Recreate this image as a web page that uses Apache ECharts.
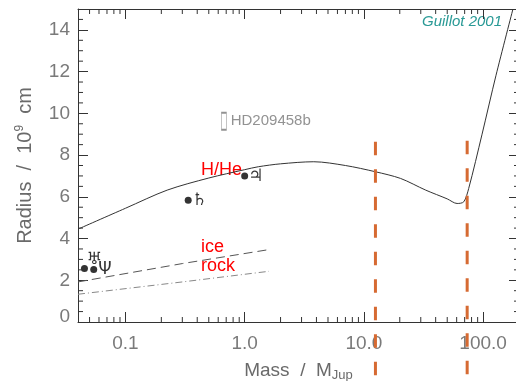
<!DOCTYPE html>
<html>
<head>
<meta charset="utf-8">
<script src="https://cdn.jsdelivr.net/npm/echarts@6/dist/echarts.min.js"></script>
<style>
  html, body { margin: 0; padding: 0; background: #fff; }
  #chart { width: 516px; height: 381px; }
</style>
</head>
<body>
<div id="chart"></div>
<script>
// H/He interior model (Guillot 2001), radius in 1e9 cm vs mass in M_Jup
const hheMass   = [0.04, 0.1, 0.224, 0.5, 1.0, 1.3, 2.0, 3.8, 7.0, 12.5, 20.3, 33, 50, 60.5, 68.8, 75.7, 98, 128, 178];
const hheRadius = [4.45, 5.45, 6.32, 6.9, 7.3, 7.44, 7.58, 7.68, 7.5, 7.2, 6.88, 6.32, 5.9, 5.68, 5.76, 6.4, 9.0, 11.8, 15.0];

const iceMass    = [0.04, 0.3, 1.6];
const iceRadius  = [1.92, 2.8, 3.47];
const rockMass   = [0.04, 0.3, 1.6];
const rockRadius = [1.33, 1.92, 2.43];

// solar system giants
const planetMass    = [0.0453, 0.0542, 0.336, 1.0];
const planetRadius  = [2.56, 2.51, 5.84, 7.0];
const planetSymbols = ['\u2645', '\u03A8', '\u2644', '\u2643'];

const hdMass = [0.67];
const hdRadius = [9.62];
const hdName = 'HD209458b';

// deuterium / hydrogen burning limits
const limitMass = [12.5, 73.5];
const limitTop = [8.64, 8.69];
const limitBottom = -2.6;

const xMin = 0.04, xMax = 200, yMin = 0, yMax = 15;
const xMajor = [0.1, 1, 10, 100];
const xMinor = [0.05, 0.06, 0.07, 0.08, 0.09, 0.2, 0.3, 0.4, 0.5, 0.6, 0.7, 0.8, 0.9,
  2, 3, 4, 5, 6, 7, 8, 9, 20, 30, 40, 50, 60, 70, 80, 90];
const yMajor = [0, 2, 4, 6, 8, 10, 12, 14];
const yMinor = [0.5, 1, 1.5, 2.5, 3, 3.5, 4.5, 5, 5.5, 6.5, 7, 7.5, 8.5, 9, 9.5,
  10.5, 11, 11.5, 12.5, 13, 13.5, 14.5];

const axisColor = '#333';
const labelColor = '#7a7a7a';
const nameColor = '#6a6a6a';
const font = 'Liberation Sans';

function xAxisDef(pos, withLabels) {
  return {
    type: 'log', logBase: 10, min: xMin, max: xMax, position: pos,
    axisLine: { show: true, onZero: false, lineStyle: { color: axisColor } },
    axisTick: { show: true, inside: true, length: 10, customValues: xMajor, lineStyle: { color: axisColor } },
    splitLine: { show: false },
    axisLabel: withLabels ? {
      customValues: xMajor, color: labelColor, fontSize: 19, fontFamily: font, margin: 12,
      formatter: v => v < 1 ? String(v) : v.toFixed(1)
    } : { show: false }
  };
}

function yAxisDef(pos, withLabels) {
  return {
    type: 'value', min: yMin, max: yMax, position: pos,
    axisLine: { show: true, onZero: false, lineStyle: { color: axisColor } },
    axisTick: { show: true, inside: true, length: 10, customValues: yMajor, lineStyle: { color: axisColor } },
    splitLine: { show: false },
    axisLabel: withLabels ? {
      customValues: yMajor, color: labelColor, fontSize: 19, fontFamily: font, margin: 8,
      formatter: v => v === 0 ? '{z|0}' : String(v),
      rich: { z: { fontSize: 19, fontFamily: font, color: labelColor, padding: [0, 0, 11, 0] } }
    } : { show: false }
  };
}

const xAxes = [xAxisDef('bottom', true), xAxisDef('top', false)];
xAxes[0].name = 'Mass  /  M{sub|Jup}';
xAxes[0].nameLocation = 'middle';
xAxes[0].nameGap = 37;
xAxes[0].nameTextStyle = {
  color: nameColor, fontSize: 19, fontFamily: font,
  rich: { sub: { fontSize: 13, fontFamily: font, color: nameColor, padding: [10, 0, 0, 0] } }
};

const yAxes = [yAxisDef('left', true), yAxisDef('right', false)];
yAxes[0].name = 'Radius  /  10{sup|9}  cm';
yAxes[0].nameLocation = 'middle';
yAxes[0].nameRotate = 90;
yAxes[0].nameGap = 42;
yAxes[0].nameTextStyle = {
  color: nameColor, fontSize: 20, fontFamily: font,
  rich: { sup: { fontSize: 12, fontFamily: font, color: nameColor, padding: [0, 0, 10, 0] } }
};

const zip = (a, b) => a.map((v, i) => [v, b[i]]);
const tickLine = (x1, y1, x2, y2) => ({
  type: 'line', shape: { x1, y1, x2, y2 }, style: { stroke: axisColor, lineWidth: 1 }
});

const planetLabelPos = ['top', 'right', 'right', 'right'];
const planetLabelOffset = [[10, 6], [-2, 0], [-3, 0], [-3, 1]];

const series = [
  {
    name: 'H/He', type: 'line', data: zip(hheMass, hheRadius), smooth: 0.3,
    showSymbol: false, symbol: 'none', clip: true,
    lineStyle: { color: '#333', width: 1 }, z: 3
  },
  {
    name: 'ice', type: 'line', data: zip(iceMass, iceRadius), symbol: 'none',
    lineStyle: { color: '#555', width: 1, type: [9, 5] }
  },
  {
    name: 'rock', type: 'line', data: zip(rockMass, rockRadius), symbol: 'none',
    lineStyle: { color: '#888', width: 1, type: [7, 3, 1, 3] }
  },
  {
    name: 'planets', type: 'scatter', symbolSize: 7, itemStyle: { color: '#000' },
    data: planetMass.map((m, i) => ({
      value: [m, planetRadius[i]],
      label: {
        show: true, position: planetLabelPos[i], offset: planetLabelOffset[i],
        formatter: planetSymbols[i]
      }
    })),
    label: { color: '#000', fontSize: 17, fontFamily: 'DejaVu Sans', distance: 3 },
    z: 5
  },
  {
    name: hdName, type: 'scatter', symbol: 'rect', symbolSize: [5, 17],
    itemStyle: { color: 'rgba(0,0,0,0)', borderColor: '#777', borderWidth: 1 },
    data: zip(hdMass, hdRadius),
    label: {
      show: true, position: 'right', distance: 4, formatter: hdName,
      color: '#777', fontSize: 15, fontFamily: font
    }
  },
  {
    // minor ticks on bottom and top axes
    type: 'custom', silent: true, z: 6,
    data: xMinor.map(v => [v, yMin]),
    renderItem: (params, api) => {
      const b = api.coord([api.value(0), yMin]);
      const t = api.coord([api.value(0), yMax]);
      return { type: 'group', children: [
        tickLine(b[0], b[1], b[0], b[1] - 5),
        tickLine(t[0], t[1], t[0], t[1] + 5)
      ] };
    }
  },
  {
    // minor ticks on left and right axes
    type: 'custom', silent: true, z: 6,
    data: yMinor.map(v => [xMin, v]),
    renderItem: (params, api) => {
      const l = api.coord([xMin, api.value(1)]);
      const r = api.coord([xMax, api.value(1)]);
      return { type: 'group', children: [
        tickLine(l[0], l[1], l[0] + 5, l[1]),
        tickLine(r[0], r[1], r[0] - 5, r[1])
      ] };
    }
  }
];

limitMass.forEach((m, i) => {
  series.push({
    type: 'line', symbol: 'none', clip: false, silent: true,
    data: [[m, limitTop[i]], [m, limitBottom]],
    lineStyle: { color: '#d66a32', width: 3, type: [13.5, 14] }, z: 4
  });
});

const option = {
  animation: false,
  backgroundColor: '#fff',
  grid: { left: 78, right: -3, top: 9, bottom: 59, outerBoundsMode: 'none' },
  xAxis: xAxes,
  yAxis: yAxes,
  series: series,
  graphic: [
    { type: 'text', left: 201, top: 161, style: { text: 'H/He', fill: '#ff0000', font: '18px "Liberation Sans"' } },
    { type: 'text', left: 201, top: 238, style: { text: 'ice', fill: '#ff0000', font: '18px "Liberation Sans"' } },
    { type: 'text', left: 201, top: 257, style: { text: 'rock', fill: '#ff0000', font: '18px "Liberation Sans"' } },
    { type: 'text', left: 422, top: 14, style: { text: 'Guillot 2001', fill: '#2a9a96', font: 'italic 15px "Liberation Sans"' } }
  ]
};

const chart = echarts.init(document.getElementById('chart'));
chart.setOption(option);
</script>
</body>
</html>
